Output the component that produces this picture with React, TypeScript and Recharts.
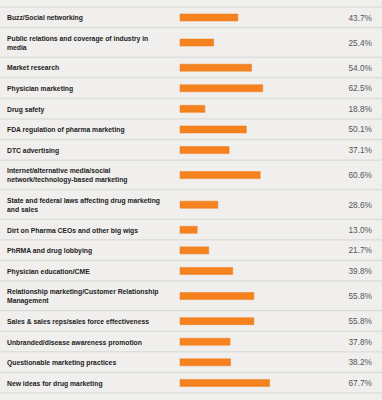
import React from 'react';
import { BarChart, Bar, XAxis, YAxis, ReferenceLine, LabelList } from 'recharts';

const topics = [
	'Buzz/Social networking',
	'Public relations and coverage of industry in media',
	'Market research',
	'Physician marketing',
	'Drug safety',
	'FDA regulation of pharma marketing',
	'DTC advertising',
	'Internet/alternative media/social network/technology-based marketing',
	'State and federal laws affecting drug marketing and sales',
	'Dirt on Pharma CEOs and other big wigs',
	'PhRMA and drug lobbying',
	'Physician education/CME',
	'Relationship marketing/Customer Relationship Management',
	'Sales & sales reps/sales force effectiveness',
	'Unbranded/disease awareness promotion',
	'Questionable marketing practices',
	'New ideas for drug marketing',
];

const shares = [43.7, 25.4, 54.0, 62.5, 18.8, 50.1, 37.1, 60.6, 28.6, 13.0, 21.7, 39.8, 55.8, 55.8, 37.8, 38.2, 67.7];

const LABEL_FONT = "bold 6.8px 'Liberation Sans', Arial, sans-serif";
const WRAP_WIDTH = 160;
const ROW_H = 20.6;
const LINE_H = 9;

let ctx: CanvasRenderingContext2D | null = null;
const measure = (s: string) => {
	if (!ctx) {
		ctx = document.createElement('canvas').getContext('2d');
		if (ctx) ctx.font = LABEL_FONT;
	}
	return ctx ? ctx.measureText(s).width : s.length * 3.6;
};

const wrap = (s: string) => {
	const lines: string[] = [];
	let cur = '';
	s.split(' ').forEach((w) => {
		const next = cur ? cur + ' ' + w : w;
		if (cur && measure(next) > WRAP_WIDTH) {
			lines.push(cur);
			cur = w;
		} else cur = next;
	});
	lines.push(cur);
	return lines;
};

// row layout follows the number of wrapped label lines
let acc = 0;
const data = topics.map((topic, i) => {
	const lines = wrap(topic);
	const h = ROW_H + LINE_H * (lines.length - 1);
	const row = { topic, lines, share: shares[i], mid: acc + h / 2, start: acc };
	acc += h;
	return row;
});
const total = acc;
const bounds = [...data.map((d) => d.start), total];

const TopicTick = (props: any) => {
	const { y, index } = props;
	const lines: string[] = data[index]?.lines ?? [];
	const y0 = y - ((lines.length - 1) * LINE_H) / 2;
	return (
		<text x={7} y={y0} fill="#222" fontSize={6.8} fontWeight="bold" fontFamily="'Liberation Sans', Arial, sans-serif" dominantBaseline="central">
			{lines.map((l, i) => (
				<tspan key={i} x={7} y={y0 + i * LINE_H}>
					{l}
				</tspan>
			))}
		</text>
	);
};

const PctLabel = (props: any) => {
	const { y, height, value } = props;
	return (
		<text x={372} y={y + height / 2} textAnchor="end" dominantBaseline="central" fill="#555" fontSize={8.3} fontFamily="'Liberation Sans', Arial, sans-serif">
			{Number(value).toFixed(1)}%
		</text>
	);
};

const RowLine = (props: any) => (
	<line x1={0} x2={382} y1={props.y1} y2={props.y1} stroke="#d6d6d4" strokeWidth={1} />
);

export default function App() {
	return (
		<div style={{ position: 'absolute', left: 0, top: 0, width: 382, height: 400, background: '#f0efed' }}>
			<BarChart
				width={382}
				height={400}
				data={data}
				layout="vertical"
				margin={{ top: 7, right: 69.6, left: 0, bottom: 7 }}
			>
				<XAxis type="number" domain={[0, 100]} hide />
				<YAxis
					type="number"
					dataKey="mid"
					domain={[0, total]}
					width={180}
					ticks={data.map((d) => d.mid)}
					interval={0}
					axisLine={false}
					tickLine={false}
					tick={<TopicTick />}
				/>
				{bounds.map((b) => (
					<ReferenceLine key={b} y={b} shape={<RowLine />} />
				))}
				<Bar dataKey="share" fill="#f5821f" stroke="#ec7a14" strokeWidth={0.5} barSize={7} isAnimationActive={false}>
					<LabelList dataKey="share" content={<PctLabel />} />
				</Bar>
			</BarChart>
		</div>
	);
}
